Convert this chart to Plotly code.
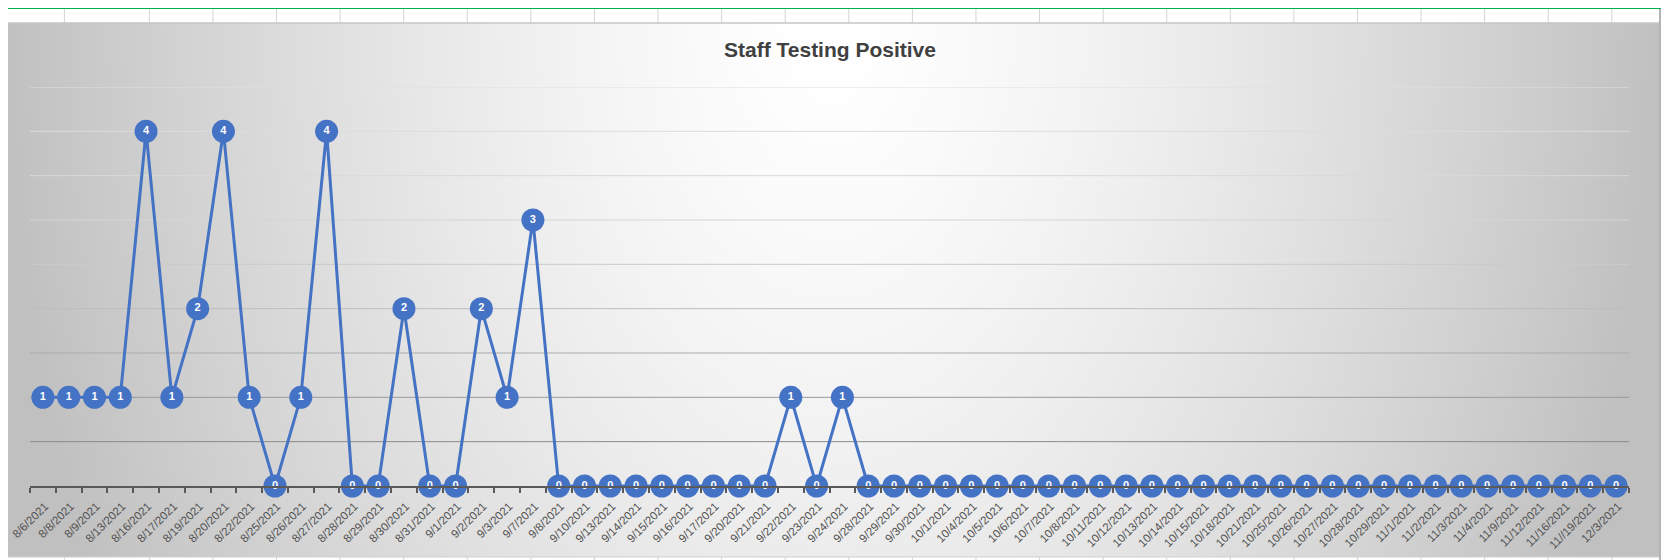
import zlib, struct, base64, math
import plotly.graph_objects as go

# ---------------- data ----------------
dates = ["8/6/2021", "8/8/2021", "8/9/2021", "8/13/2021", "8/16/2021", "8/17/2021",
         "8/19/2021", "8/20/2021", "8/22/2021", "8/25/2021", "8/26/2021", "8/27/2021",
         "8/28/2021", "8/29/2021", "8/30/2021", "8/31/2021", "9/1/2021", "9/2/2021",
         "9/3/2021", "9/7/2021", "9/8/2021", "9/10/2021", "9/13/2021", "9/14/2021",
         "9/15/2021", "9/16/2021", "9/17/2021", "9/20/2021", "9/21/2021", "9/22/2021",
         "9/23/2021", "9/24/2021", "9/28/2021", "9/29/2021", "9/30/2021", "10/1/2021",
         "10/4/2021", "10/5/2021", "10/6/2021", "10/7/2021", "10/8/2021", "10/11/2021",
         "10/12/2021", "10/13/2021", "10/14/2021", "10/15/2021", "10/18/2021", "10/21/2021",
         "10/25/2021", "10/26/2021", "10/27/2021", "10/28/2021", "10/29/2021", "11/1/2021",
         "11/2/2021", "11/3/2021", "11/4/2021", "11/9/2021", "11/12/2021", "11/16/2021",
         "11//19/2021", "12/3/2021"]

positives = [1, 1, 1, 1, 4, 1, 2, 4, 1, 0, 1, 4, 0, 0, 2, 0, 0, 2, 1, 3,
             0, 0, 0, 0, 0, 0, 0, 0, 0, 1, 0, 1, 0,
             0, 0, 0, 0, 0, 0, 0, 0, 0, 0, 0, 0, 0, 0, 0, 0, 0, 0, 0, 0, 0,
             0, 0, 0, 0, 0, 0, 0, 0]

chart_title = "Staff Testing Positive"
gridline_levels = [0.5, 1, 1.5, 2, 2.5, 3, 3.5, 4, 4.5]

# ---------------- geometry helpers ----------------
# the page body has an 8px margin, so the figure starts at (8, 8) in the window
OFF = 8
W, H = 1669 - OFF, 560 - OFF
PLOT_X0, PLOT_X1, PLOT_Y0, PLOT_Y1 = 29.6, 1629.0, 87.0, 486.0   # window coords
ML = PLOT_X0 - OFF
MR = W - (PLOT_X1 - OFF)
MT = PLOT_Y0 - OFF
MB = H - (PLOT_Y1 - OFF)
PW, PH = W - ML - MR, H - MT - MB


def px2x(px):
    return (px - OFF - ML) / PW


def py2y(py):
    return (H - MB - (py - OFF)) / PH


# ---------------- background gradient as PNG ----------------
def gradient_png(w, h, x0, x1, y0, y1):
    raw = bytearray()
    for j in range(h):
        raw.append(0)
        py = y0 + (j + 0.5) * (y1 - y0) / h
        for i in range(w):
            px = x0 + (i + 0.5) * (x1 - x0) / w
            dx = (px - 830) / 830.0
            dy = (py - 23) / 1260.0
            r = min(1.0, math.sqrt(dx * dx + dy * dy))
            g = int(round(255 - 63 * r ** 1.4))
            raw.append(max(0, min(255, g)))

    def chunk(tag, data):
        return (struct.pack(">I", len(data)) + tag + data +
                struct.pack(">I", zlib.crc32(tag + data) & 0xffffffff))

    png = (b"\x89PNG\r\n\x1a\n" +
           chunk(b"IHDR", struct.pack(">IIBBBBB", w, h, 8, 0, 0, 0, 0)) +
           chunk(b"IDAT", zlib.compress(bytes(raw), 9)) +
           chunk(b"IEND", b""))
    return "data:image/png;base64," + base64.b64encode(png).decode()


CH_X0, CH_X1, CH_Y0, CH_Y1 = 0, 1659, 23, 557
bg_src = gradient_png(415, 134, CH_X0, CH_X1, CH_Y0, CH_Y1)

# ---------------- figure ----------------
fig = go.Figure()
fig.add_trace(go.Scatter(
    x=dates, y=positives,
    mode="lines+markers+text",
    text=[str(v) for v in positives],
    textposition="middle center",
    textfont=dict(family="Liberation Sans", size=11, color="white", weight="bold"),
    line=dict(color="#4472C4", width=3),
    marker=dict(color="#4472C4", size=23, line=dict(width=0)),
    cliponaxis=False,
    hoverinfo="x+y",
    showlegend=False,
))

shapes = []
grid_colors = ["#8a8a8a", "#9b9b9b", "#ababab", "#bdbdbd", "#cbcbcb",
               "#d5d5d5", "#d9d9d9", "#dcdcdc", "#dfdfdf"]
for lvl, col in zip(gridline_levels, grid_colors):
    shapes.append(dict(type="line", xref="paper", yref="y", x0=0, x1=1, y0=lvl, y1=lvl,
                       line=dict(color=col, width=1), layer="below"))

# spreadsheet chrome: green bar, cell rows, borders
shapes.append(dict(type="rect", xref="paper", yref="paper", x0=px2x(0), x1=px2x(1669),
                   y0=py2y(9), y1=py2y(0), fillcolor="#00B050", line=dict(width=0), layer="above"))
shapes.append(dict(type="rect", xref="paper", yref="paper", x0=px2x(0), x1=px2x(1660),
                   y0=py2y(23), y1=py2y(9), fillcolor="white", line=dict(width=0), layer="above"))
shapes.append(dict(type="rect", xref="paper", yref="paper", x0=px2x(0), x1=px2x(1660),
                   y0=py2y(560), y1=py2y(557), fillcolor="white", line=dict(width=0), layer="above"))
col_lines = [1, 64] + [149 + 63.6 * k for k in range(24)]
for cx in col_lines:
    shapes.append(dict(type="line", xref="paper", yref="paper", x0=px2x(cx), x1=px2x(cx),
                       y0=py2y(23), y1=py2y(9), line=dict(color="#d4d4d4", width=1), layer="above"))
    shapes.append(dict(type="line", xref="paper", yref="paper", x0=px2x(cx), x1=px2x(cx),
                       y0=py2y(560), y1=py2y(557), line=dict(color="#d4d4d4", width=1), layer="above"))
shapes.append(dict(type="line", xref="paper", yref="paper", x0=px2x(0), x1=px2x(1660),
                   y0=py2y(23), y1=py2y(23), line=dict(color="#c6c6c6", width=1.5), layer="above"))
shapes.append(dict(type="line", xref="paper", yref="paper", x0=px2x(0), x1=px2x(1660),
                   y0=py2y(557), y1=py2y(557), line=dict(color="#d0d0d0", width=1), layer="above"))
shapes.append(dict(type="rect", xref="paper", yref="paper", x0=px2x(1659), x1=px2x(1662),
                   y0=py2y(560), y1=py2y(9), fillcolor="#b4b4b4", line=dict(width=0), layer="above"))
shapes.append(dict(type="rect", xref="paper", yref="paper", x0=px2x(1662), x1=px2x(1669),
                   y0=py2y(560), y1=py2y(9), fillcolor="#ececec", line=dict(width=0), layer="above"))

fig.update_layout(
    width=W, height=H,
    margin=dict(l=ML, r=MR, t=MT, b=MB, pad=0, autoexpand=False),
    paper_bgcolor="white",
    plot_bgcolor="rgba(0,0,0,0)",
    title=dict(text="<b>" + chart_title + "</b>", x=(830 - OFF) / W, xref="container",
               xanchor="center", y=1 - (50 - OFF) / H, yref="container", yanchor="middle",
               font=dict(family="Liberation Sans", size=21, color="#404040")),
    xaxis=dict(type="category", range=[-0.5, len(dates) - 0.5], tickson="boundaries",
               ticks="outside", ticklen=5, tickwidth=1.5, tickcolor="#595959",
               showline=True, linecolor="#595959", linewidth=2, showgrid=False,
               tickangle=-45, automargin=False, ticklabelstandoff=7, ticklabelshift=2,
               tickfont=dict(family="Liberation Sans", size=11.5, color="#505050"),
               fixedrange=True),
    yaxis=dict(range=[0, 4.5], showticklabels=False, showgrid=False, zeroline=False,
               showline=False, ticks="", automargin=False, fixedrange=True),
    images=[dict(source=bg_src, xref="paper", yref="paper", x=px2x(CH_X0), y=py2y(CH_Y0),
                 sizex=(CH_X1 - CH_X0) / PW, sizey=(CH_Y1 - CH_Y0) / PH,
                 xanchor="left", yanchor="top", sizing="stretch", layer="below")],
    shapes=shapes,
)

fig.write_html("out.html")
